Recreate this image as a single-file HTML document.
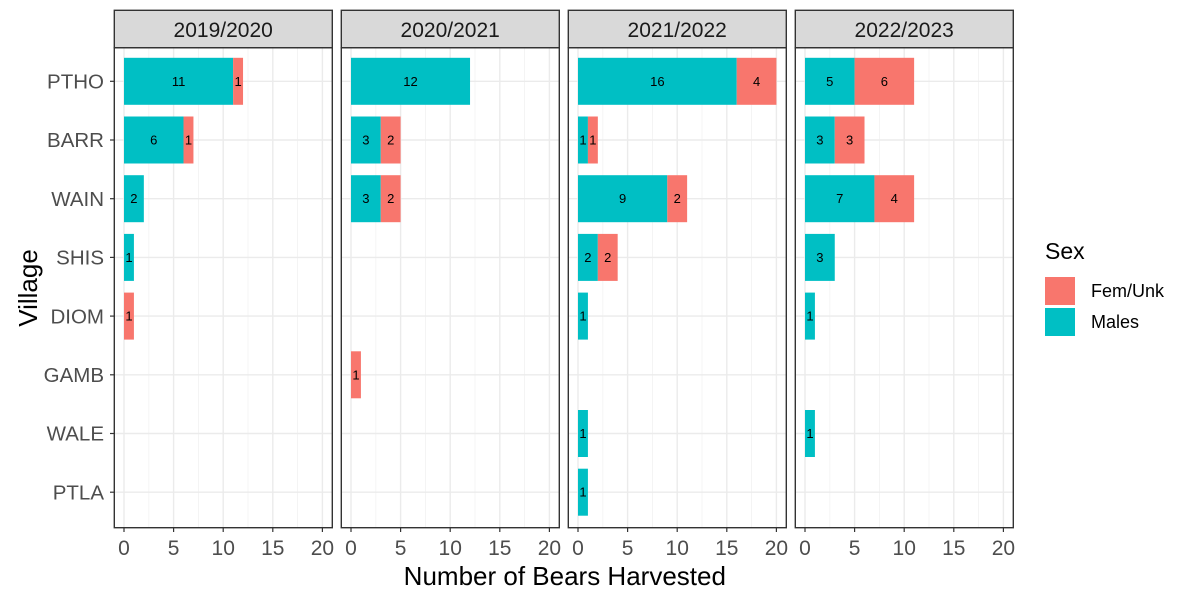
<!DOCTYPE html>
<html><head><meta charset="utf-8"><style>body{margin:0;background:#fff}svg{display:block}text{font-family:"Liberation Sans",sans-serif}</style></head><body>
<svg width="1200" height="600" viewBox="0 0 1200 600">
<defs>
<g id="grid">
<rect x="-9.7" y="47.7" width="218" height="480" fill="#fff"/>
<g stroke="#f2f2f2" stroke-width="0.8">
<line x1="24.8" y1="47.7" x2="24.8" y2="527.7"/><line x1="74.4" y1="47.7" x2="74.4" y2="527.7"/><line x1="124" y1="47.7" x2="124" y2="527.7"/><line x1="173.6" y1="47.7" x2="173.6" y2="527.7"/>
</g>
<g stroke="#ebebeb" stroke-width="1.4">
<line x1="0" y1="47.7" x2="0" y2="527.7"/><line x1="49.6" y1="47.7" x2="49.6" y2="527.7"/><line x1="99.2" y1="47.7" x2="99.2" y2="527.7"/><line x1="148.8" y1="47.7" x2="148.8" y2="527.7"/><line x1="198.4" y1="47.7" x2="198.4" y2="527.7"/>
<line x1="-9.7" y1="81.3" x2="208.3" y2="81.3"/><line x1="-9.7" y1="140" x2="208.3" y2="140"/><line x1="-9.7" y1="198.7" x2="208.3" y2="198.7"/><line x1="-9.7" y1="257.4" x2="208.3" y2="257.4"/><line x1="-9.7" y1="316.1" x2="208.3" y2="316.1"/><line x1="-9.7" y1="374.8" x2="208.3" y2="374.8"/><line x1="-9.7" y1="433.5" x2="208.3" y2="433.5"/><line x1="-9.7" y1="492.2" x2="208.3" y2="492.2"/>
</g>
</g>
<g id="frame">
<rect x="-9.7" y="47.7" width="218" height="480" fill="none" stroke="#333" stroke-width="1.4"/>
<rect x="-9.7" y="10.3" width="218" height="37.4" fill="#d9d9d9" stroke="#333" stroke-width="1.4"/>
<g stroke="#333" stroke-width="1.2">
<line x1="0" y1="528" x2="0" y2="532"/><line x1="49.6" y1="528" x2="49.6" y2="532"/><line x1="99.2" y1="528" x2="99.2" y2="532"/><line x1="148.8" y1="528" x2="148.8" y2="532"/><line x1="198.4" y1="528" x2="198.4" y2="532"/>
</g>
<g font-size="21" fill="#4d4d4d" text-anchor="middle">
<text x="0" y="555">0</text><text x="49.6" y="555">5</text><text x="99.2" y="555">10</text><text x="148.8" y="555">15</text><text x="198.4" y="555">20</text>
</g>
</g>
</defs>

<!-- Panel 1 -->
<g transform="translate(124,0)">
<use href="#grid"/>
<g transform="scale(9.92,1)">
<rect x="0" y="57.8" width="11" height="47" fill="#00bfc4"/><rect x="11" y="57.8" width="1" height="47" fill="#f8766d"/>
<rect x="0" y="116.5" width="6" height="47" fill="#00bfc4"/><rect x="6" y="116.5" width="1" height="47" fill="#f8766d"/>
<rect x="0" y="175.2" width="2" height="47" fill="#00bfc4"/>
<rect x="0" y="233.9" width="1" height="47" fill="#00bfc4"/>
<rect x="0" y="292.6" width="1" height="47" fill="#f8766d"/>
</g>
<g font-size="13" text-anchor="middle" fill="#000">
<text x="54.6" y="85.8">11</text><text x="114.1" y="85.8">1</text>
<text x="29.8" y="144.5">6</text><text x="64.5" y="144.5">1</text>
<text x="9.9" y="203.2">2</text>
<text x="5" y="261.9">1</text>
<text x="5" y="320.6">1</text>
</g>
<use href="#frame"/>
<text x="99.2" y="37" font-size="21" text-anchor="middle" fill="#1a1a1a">2019/2020</text>
</g>

<!-- Panel 2 -->
<g transform="translate(351,0)">
<use href="#grid"/>
<g transform="scale(9.92,1)">
<rect x="0" y="57.8" width="12" height="47" fill="#00bfc4"/>
<rect x="0" y="116.5" width="3" height="47" fill="#00bfc4"/><rect x="3" y="116.5" width="2" height="47" fill="#f8766d"/>
<rect x="0" y="175.2" width="3" height="47" fill="#00bfc4"/><rect x="3" y="175.2" width="2" height="47" fill="#f8766d"/>
<rect x="0" y="351.3" width="1" height="47" fill="#f8766d"/>
</g>
<g font-size="13" text-anchor="middle" fill="#000">
<text x="59.5" y="85.8">12</text>
<text x="14.9" y="144.5">3</text><text x="39.7" y="144.5">2</text>
<text x="14.9" y="203.2">3</text><text x="39.7" y="203.2">2</text>
<text x="5" y="379.3">1</text>
</g>
<use href="#frame"/>
<text x="99.2" y="37" font-size="21" text-anchor="middle" fill="#1a1a1a">2020/2021</text>
</g>

<!-- Panel 3 -->
<g transform="translate(578,0)">
<use href="#grid"/>
<g transform="scale(9.92,1)">
<rect x="0" y="57.8" width="16" height="47" fill="#00bfc4"/><rect x="16" y="57.8" width="4" height="47" fill="#f8766d"/>
<rect x="0" y="116.5" width="1" height="47" fill="#00bfc4"/><rect x="1" y="116.5" width="1" height="47" fill="#f8766d"/>
<rect x="0" y="175.2" width="9" height="47" fill="#00bfc4"/><rect x="9" y="175.2" width="2" height="47" fill="#f8766d"/>
<rect x="0" y="233.9" width="2" height="47" fill="#00bfc4"/><rect x="2" y="233.9" width="2" height="47" fill="#f8766d"/>
<rect x="0" y="292.6" width="1" height="47" fill="#00bfc4"/>
<rect x="0" y="410" width="1" height="47" fill="#00bfc4"/>
<rect x="0" y="468.7" width="1" height="47" fill="#00bfc4"/>
</g>
<g font-size="13" text-anchor="middle" fill="#000">
<text x="79.4" y="85.8">16</text><text x="178.6" y="85.8">4</text>
<text x="5" y="144.5">1</text><text x="14.9" y="144.5">1</text>
<text x="44.6" y="203.2">9</text><text x="99.2" y="203.2">2</text>
<text x="9.9" y="261.9">2</text><text x="29.8" y="261.9">2</text>
<text x="5" y="320.6">1</text>
<text x="5" y="438">1</text>
<text x="5" y="496.7">1</text>
</g>
<use href="#frame"/>
<text x="99.2" y="37" font-size="21" text-anchor="middle" fill="#1a1a1a">2021/2022</text>
</g>

<!-- Panel 4 -->
<g transform="translate(805,0)">
<use href="#grid"/>
<g transform="scale(9.92,1)">
<rect x="0" y="57.8" width="5" height="47" fill="#00bfc4"/><rect x="5" y="57.8" width="6" height="47" fill="#f8766d"/>
<rect x="0" y="116.5" width="3" height="47" fill="#00bfc4"/><rect x="3" y="116.5" width="3" height="47" fill="#f8766d"/>
<rect x="0" y="175.2" width="7" height="47" fill="#00bfc4"/><rect x="7" y="175.2" width="4" height="47" fill="#f8766d"/>
<rect x="0" y="233.9" width="3" height="47" fill="#00bfc4"/>
<rect x="0" y="292.6" width="1" height="47" fill="#00bfc4"/>
<rect x="0" y="410" width="1" height="47" fill="#00bfc4"/>
</g>
<g font-size="13" text-anchor="middle" fill="#000">
<text x="24.8" y="85.8">5</text><text x="79.4" y="85.8">6</text>
<text x="14.9" y="144.5">3</text><text x="44.6" y="144.5">3</text>
<text x="34.7" y="203.2">7</text><text x="89.3" y="203.2">4</text>
<text x="14.9" y="261.9">3</text>
<text x="5" y="320.6">1</text>
<text x="5" y="438">1</text>
</g>
<use href="#frame"/>
<text x="99.2" y="37" font-size="21" text-anchor="middle" fill="#1a1a1a">2022/2023</text>
</g>

<!-- Y axis -->
<g stroke="#333" stroke-width="1.2">
<line x1="110" y1="81.3" x2="114.3" y2="81.3"/><line x1="110" y1="140" x2="114.3" y2="140"/><line x1="110" y1="198.7" x2="114.3" y2="198.7"/><line x1="110" y1="257.4" x2="114.3" y2="257.4"/><line x1="110" y1="316.1" x2="114.3" y2="316.1"/><line x1="110" y1="374.8" x2="114.3" y2="374.8"/><line x1="110" y1="433.5" x2="114.3" y2="433.5"/><line x1="110" y1="492.2" x2="114.3" y2="492.2"/>
</g>
<g font-size="20.5" fill="#4d4d4d" text-anchor="end">
<text x="104" y="88.5">PTHO</text><text x="104" y="147.2">BARR</text><text x="104" y="205.9">WAIN</text><text x="104" y="264.6">SHIS</text><text x="104" y="323.3">DIOM</text><text x="104" y="382">GAMB</text><text x="104" y="440.7">WALE</text><text x="104" y="499.4">PTLA</text>
</g>
<text transform="translate(37,288) rotate(-90)" font-size="26" text-anchor="middle" fill="#000">Village</text>
<text x="564.8" y="585" font-size="26" text-anchor="middle" fill="#000">Number of Bears Harvested</text>

<!-- Legend -->
<text x="1045" y="259" font-size="23" fill="#000">Sex</text>
<rect x="1045" y="277" width="30" height="28" fill="#f8766d"/>
<rect x="1045" y="308" width="30" height="28" fill="#00bfc4"/>
<text x="1091" y="297" font-size="18" fill="#000">Fem/Unk</text>
<text x="1091" y="328" font-size="18" fill="#000">Males</text>
</svg>
</body></html>
